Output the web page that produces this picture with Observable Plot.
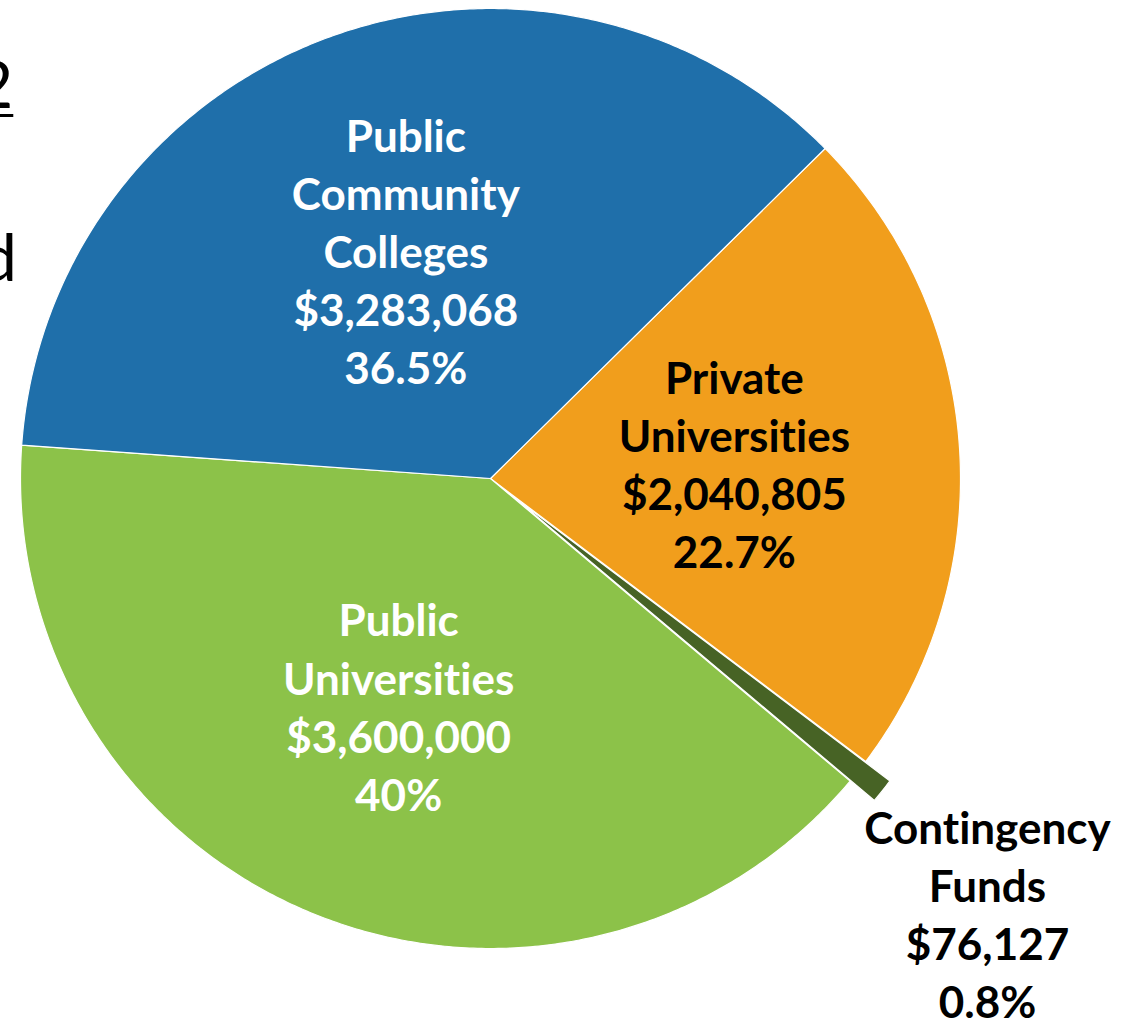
<!DOCTYPE html>
<html>
<head>
<meta charset="utf-8">
<script src="https://cdn.jsdelivr.net/npm/d3@7"></script>
<script src="https://cdn.jsdelivr.net/npm/@observablehq/plot@0.6"></script>
<style>
  html, body { margin: 0; padding: 0; background: #ffffff; }
  #wrap { position: relative; width: 1137px; height: 1030px; overflow: hidden; }
  .bg { position: absolute; font-family: Lato, "Open Sans", sans-serif; font-size: 66px; line-height: 1; color: #000; white-space: nowrap; }
  #chart { position: absolute; left: 0; top: 0; }
  #chart text { font-variant-ligatures: none; font-feature-settings: "liga" 0; }
</style>
</head>
<body>
<div id="wrap">
  <div class="bg" style="left:-25px; top:50px; text-decoration: underline; text-decoration-thickness: 3px; text-underline-offset: 6px;">2</div>
  <div class="bg" style="left:-20px; top:223px;">d</div>
  <div id="chart"></div>
</div>
<script>
// ---- data ----
const categories = ["Private Universities", "Contingency Funds", "Public Universities", "Public Community Colleges"];
const labelNames = ["Private\nUniversities", "Contingency\nFunds", "Public\nUniversities", "Public\nCommunity\nColleges"];
const amounts = [2040805, 76127, 3600000, 3283068];
const colors = ["#F19E1C", "#476325", "#8CC249", "#1F6FAA"];
const labelColors = ["#000000", "#000000", "#ffffff", "#ffffff"];

// ---- layout ----
const W = 1137, H = 1030;
const cx = 490, cy = 478, R = 470;
const startDeg = 45.4;
const explodeUnit = 0.066;
const outsideLabelHalfWidth = 150;

const total = d3.sum(amounts);
const pie = d3.pie().sort(null).value(d => d.amount)
  .startAngle(startDeg * Math.PI / 180)
  .endAngle(startDeg * Math.PI / 180 + 2 * Math.PI);

const rows = categories.map((c, i) => ({
  name: c, label: labelNames[i], amount: amounts[i], color: colors[i], textColor: labelColors[i]
}));
const arcs = pie(rows);

const fmtMoney = d3.format("$,");
const fmtPct = v => d3.format(".1f")(v).replace(/\.0$/, "") + "%";
const maxX = (W - cx - outsideLabelHalfWidth) / R;

const polyPts = [];
const labels = [];
arcs.forEach(a => {
  const share = a.data.amount / total;
  const mid = (a.startAngle + a.endAngle) / 2;
  const outside = share < 0.05;
  const ex = outside ? explodeUnit : 0;
  const ox = Math.sin(mid) * ex, oy = -Math.cos(mid) * ex;
  const pts = [{x: ox, y: oy}];
  const n = Math.max(4, Math.ceil((a.endAngle - a.startAngle) / (Math.PI / 360)));
  for (let k = 0; k <= n; k++) {
    const t = a.startAngle + (a.endAngle - a.startAngle) * k / n;
    pts.push({x: ox + Math.sin(t), y: oy - Math.cos(t)});
  }
  pts.push({x: ox, y: oy});
  pts.forEach(p => polyPts.push({...p, name: a.data.name}));
  const lr = outside ? 1.48 : 0.52;
  let lx = Math.sin(mid) * lr;
  if (outside) lx = Math.min(lx, maxX);
  labels.push({
    x: lx,
    y: -Math.cos(mid) * lr,
    text: a.data.label + "\n" + fmtMoney(a.data.amount) + "\n" + fmtPct(share * 100),
    color: a.data.textColor
  });
});

const chart = Plot.plot({
  width: W,
  height: H,
  margin: 0,
  style: {background: "transparent"},
  x: {domain: [-cx / R, (W - cx) / R], range: [0, W], axis: null},
  y: {domain: [-cy / R, (H - cy) / R], range: [0, H], axis: null},
  color: {domain: categories, range: colors},
  marks: [
    Plot.line(polyPts, {x: "x", y: "y", z: "name", fill: "name", stroke: "#ffffff", strokeWidth: 1.2, curve: "linear"}),
    Plot.text(labels, {
      x: "x", y: "y", text: "text", fill: d => d.color,
      fontSize: 44, fontWeight: "bold", fontFamily: "Lato, 'Open Sans', sans-serif",
      lineHeight: 1.32, textAnchor: "middle", lineAnchor: "middle"
    })
  ]
});
document.getElementById("chart").appendChild(chart);
</script>
</body>
</html>
